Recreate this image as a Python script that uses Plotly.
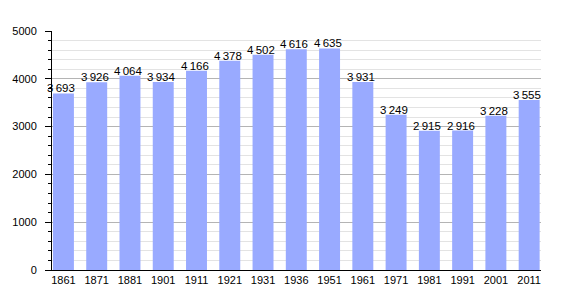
import plotly.graph_objects as go

years = ["1861", "1871", "1881", "1901", "1911", "1921", "1931", "1936",
         "1951", "1961", "1971", "1981", "1991", "2001", "2011"]
population = [3693, 3926, 4064, 3934, 4166, 4378, 4502, 4616,
              4635, 3931, 3249, 2915, 2916, 3228, 3555]
y_ticks = [0, 1000, 2000, 3000, 4000, 5000]

def fmt(v):
    s = f"{v:,}"
    return s.replace(",", "\u2009")

FONT = "Liberation Sans, Arial, sans-serif"

fig = go.Figure()
fig.add_trace(go.Bar(
    x=years, y=population,
    marker=dict(color="#99aaff", line=dict(width=0)),
    width=0.63,
    hoverinfo="x+y",
))

for i, v in enumerate(population):
    fig.add_annotation(
        x=i, y=v, xref="x", yref="y", text=fmt(v), showarrow=False,
        yanchor="bottom", xanchor="center", yshift=-3, xshift=-2,
        font=dict(family=FONT, size=11.5, color="black"),
    )

fig.update_layout(
    width=570, height=300,
    margin=dict(l=50, r=29, t=31, b=30),
    paper_bgcolor="white", plot_bgcolor="white",
    showlegend=False,
    font=dict(family=FONT, size=11, color="black"),
    bargap=0.37,
)
fig.update_xaxes(
    type="category",
    range=[-0.344, 14.356],
    showline=True, linecolor="black", linewidth=1,
    ticks="", showgrid=False, zeroline=False,
    tickfont=dict(family=FONT, size=11),
)
fig.update_yaxes(
    range=[0, 5000],
    tickvals=y_ticks,
    ticktext=[str(t) for t in y_ticks],
    showline=True, linecolor="black", linewidth=1,
    ticks="outside", ticklen=6, tickcolor="black", tickwidth=1,
    showgrid=True, gridcolor="#b4b4b4", gridwidth=1,
    zeroline=False,
    ticklabelstandoff=6,
    tickfont=dict(family=FONT, size=11),
    minor=dict(dtick=200, tick0=0, ticks="outside", ticklen=3, tickcolor="black",
               showgrid=True, gridcolor="#e3e3e3", gridwidth=1),
)

fig.write_html("out.html")
